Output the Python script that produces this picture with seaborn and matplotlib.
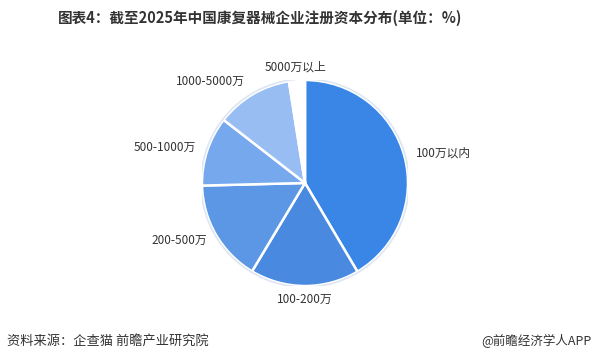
import matplotlib
matplotlib.use("Agg")
import matplotlib.pyplot as plt
import seaborn as sns
import numpy as np

categories = ["100万以内", "100-200万", "200-500万", "500-1000万", "1000-5000万", "5000万以上"]
shares = [41.5, 17.1, 16.0, 10.9, 12.0, 2.5]
colors = ["#3a86e6", "#4a89e0", "#5c97e5", "#75a8ec", "#97bdf2", "#ffffff"]

title = "图表4：截至2025年中国康复器械企业注册资本分布(单位：%)"
source = "资料来源：企查猫 前瞻产业研究院"
brand = "@前瞻经济学人APP"

sns.set_theme(style="white")
plt.rcParams['font.family'] = ['Noto Sans CJK SC', 'DejaVu Sans']

W, H = 597, 362
fig = plt.figure(figsize=(W / 100, H / 100), dpi=100)
fig.patch.set_facecolor("white")

cx, cy, r = 305, 362 - 183, 103
ax = fig.add_axes([(cx - r) / W, (cy - r) / H, 2 * r / W, 2 * r / H])
ax.axis("off")

wedges, _ = ax.pie(shares, colors=colors, startangle=90, counterclock=False,
                   radius=1.0, labels=None,
                   wedgeprops=dict(edgecolor="white", linewidth=1.8))
rim = plt.Circle((0, 0), 1.01, fill=False, edgecolor="#dde6f2", linewidth=1.2)
ax.add_patch(rim)
ax.set_xlim(-1.0, 1.0)
ax.set_ylim(-1.0, 1.0)

for w, lab in zip(wedges, categories):
    ang = np.deg2rad((w.theta1 + w.theta2) / 2)
    x, y = np.cos(ang), np.sin(ang)
    if abs(x) < 0.12:
        ha = "center"
        d = 1.13
    else:
        ha = "left" if x > 0 else "right"
        d = 1.1 + 0.05 * max(0.0, y)
    ax.text(d * x, d * y, lab, ha=ha, va="center", fontsize=8.5, color="#333333",
            clip_on=False)

fig.text(260 / W, 1 - 18 / H, title, ha="center", va="center", fontsize=10.5,
         fontweight="bold", color="#333333")
fig.text(7 / W, 1 - 341 / H, source, ha="left", va="center", fontsize=9.5,
         color="#333333")
fig.text(591 / W, 1 - 341 / H, brand, ha="right", va="center", fontsize=9,
         color="#333333")

fig.savefig("out.png", dpi=100, facecolor="white")
